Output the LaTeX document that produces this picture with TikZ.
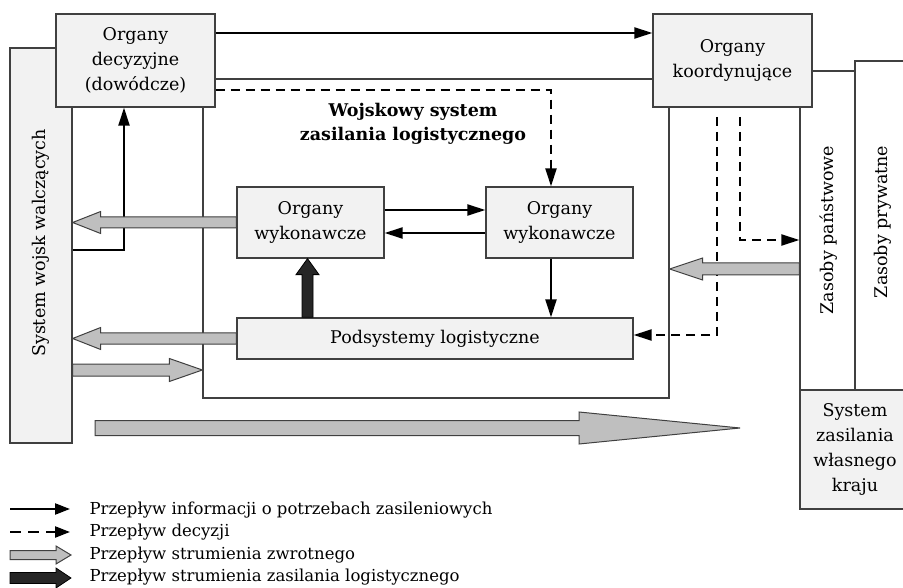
\documentclass[tikz,border=0pt]{standalone}
\usepackage{fontspec}
\setmainfont{DejaVu Serif}
\usetikzlibrary{arrows.meta,calc}

\definecolor{boxfill}{HTML}{F2F2F2}
\definecolor{edge}{HTML}{404040}
\definecolor{flowgray}{HTML}{BFBFBF}
\definecolor{flowdark}{HTML}{262626}

\newcommand\boxfont{\fontsize{17.5}{25}\selectfont}
\newcommand\legfont{\fontsize{16.5}{20}\selectfont}

% horizontal block arrow: style, from, to, half shaft, half head, head length
\newcommand\harrow[6]{%
  \draw[#1] let \p1=(#2), \p2=(#3), \n1={ifthenelse(\x2>\x1,1,-1)} in
    (\x1,\y1+#4) -- ({\x2-\n1*#6},\y1+#4) -- ({\x2-\n1*#6},\y1+#5) -- (\x2,\y1)
    -- ({\x2-\n1*#6},\y1-#5) -- ({\x2-\n1*#6},\y1-#4) -- (\x1,\y1-#4) -- cycle;}
% vertical block arrow: style, from, to, half shaft, half head, head length
\newcommand\varrow[6]{%
  \draw[#1] let \p1=(#2), \p2=(#3), \n1={ifthenelse(\y2>\y1,1,-1)} in
    (\x1+#4,\y1) -- (\x1+#4,{\y2-\n1*#6}) -- (\x1+#5,{\y2-\n1*#6}) -- (\x1,\y2)
    -- (\x1-#5,{\y2-\n1*#6}) -- (\x1-#4,{\y2-\n1*#6}) -- (\x1-#4,\y1) -- cycle;}

\tikzset{
  box/.style={draw=edge, fill=boxfill, line width=1.3pt, align=center,
    inner sep=0pt, font=\boxfont},
  plainbox/.style={draw=edge, fill=white, line width=1.3pt, inner sep=0pt},
  info/.style={line width=2.3pt, -{Triangle[length=18pt,width=11pt]}},
  decision/.style={info, dash pattern=on 9pt off 6pt},
  ret/.style={draw=edge, fill=flowgray, line width=1pt, line join=miter},
  supply/.style={draw=black, fill=flowdark, line width=0.8pt},
}

\begin{document}
\begin{tikzpicture}[x=1pt,y=-1pt]
\useasboundingbox (0,0) rectangle (903,588);

% background frames
\node[plainbox, minimum width=466, minimum height=319] (inner) at (436,238.5) {};
\node[box, minimum width=62, minimum height=395] (wojsko) at (41,245.5) {};
\node[font=\boxfont, rotate=90] (wojskolbl) at (41,243) {System wojsk walczących};
\node[plainbox, minimum width=55, minimum height=329] (prywatne) at (882.5,225.5) {};
\node[font=\boxfont, rotate=90] (prywlbl) at (883,222) {Zasoby prywatne};
\node[plainbox, minimum width=55, minimum height=319] (panst) at (827.5,230.5) {};
\node[font=\boxfont, rotate=90] (panstlbl) at (829,230) {Zasoby państwowe};
\node[box, minimum width=110, minimum height=119] (kraj) at (855,449.5)
  {System\\zasilania\\własnego\\kraju};

% main boxes
\node[box, minimum width=159, minimum height=93] (decyz) at (135.5,60.5)
  {Organy\\decyzyjne\\(dowódcze)};
\node[box, minimum width=159, minimum height=93] (koord) at (732.5,60.5)
  {Organy\\koordynujące};
\node[box, minimum width=147, minimum height=71] (wykL) at (310.5,222.5)
  {Organy\\wykonawcze};
\node[box, minimum width=147, minimum height=71] (wykR) at (559.5,222.5)
  {Organy\\wykonawcze};
\node[box, minimum width=396, minimum height=41] (podsys) at (435,338.5)
  {Podsystemy logistyczne};
\node[font=\fontsize{17.5}{24}\selectfont\bfseries, align=center] (title) at (413,124)
  {Wojskowy system\\zasilania logistycznego};

% information flows
\draw[info] (decyz.east |- 0,33) -- (koord.west |- 0,33);
\draw[info] (wojsko.east |- 0,250) -| (decyz.south -| 124,0);
\draw[info] (wykL.east |- 0,210) -- (wykR.west |- 0,210);
\draw[info] (wykR.west |- 0,233) -- (wykL.east |- 0,233);
\draw[info] (wykR.south -| 551,0) -- (podsys.north -| 551,0);

% decision flows
\coordinate (k1) at (740,117);
\coordinate (k2) at (717,117);
\draw[decision] (decyz.east |- 0,90) -| (wykR.north -| 551,0);
\draw[decision] (k1) |- (panst.west |- 0,240);
\draw[decision] (k2) |- (podsys.east |- 0,335);

% return flows
\harrow{ret}{wykL.west}{wojsko.east |- wykL.west}{5.5pt}{11pt}{28pt}
\harrow{ret}{podsys.west}{wojsko.east |- podsys.west}{5.5pt}{11pt}{28pt}
\harrow{ret}{wojsko.east |- 0,370}{inner.west |- 0,370}{6pt}{11.5pt}{33pt}
\harrow{ret}{panst.west |- 0,269}{inner.east |- 0,269}{6pt}{11pt}{33pt}
\coordinate (b1) at (95,428);
\coordinate (b2) at (740,428);
\harrow{ret}{b1}{b2}{7.5pt}{16pt}{161pt}

% logistic supply flow
\varrow{supply}{podsys.north -| 307.5,0}{wykL.south -| 307.5,0}{5.5pt}{11.5pt}{16pt}

% legend
\coordinate (l1s) at (10,509); \coordinate (l1e) at (70,509);
\coordinate (l2s) at (10,532); \coordinate (l2e) at (70,532);
\coordinate (l3s) at (10,555); \coordinate (l3e) at (71,555);
\coordinate (l4s) at (10,578); \coordinate (l4e) at (71,578);
\draw[info, -{Triangle[length=15pt,width=11pt]}] (l1s) -- (l1e);
\draw[decision, dash pattern=on 11pt off 7pt, -{Triangle[length=15pt,width=11pt]}] (l2s) -- (l2e);
\harrow{ret}{l3s}{l3e}{4.5pt}{9pt}{15pt}
\harrow{supply}{l4s}{l4e}{5.5pt}{10pt}{15pt}
\node[font=\legfont, anchor=west] (t1) at (86,510) {Przepływ informacji o potrzebach zasileniowych};
\node[font=\legfont, anchor=west] (t2) at (86,532) {Przepływ decyzji};
\node[font=\legfont, anchor=west] (t3) at (86,555) {Przepływ strumienia zwrotnego};
\node[font=\legfont, anchor=west] (t4) at (86,577) {Przepływ strumienia zasilania logistycznego};
\end{tikzpicture}
\end{document}
